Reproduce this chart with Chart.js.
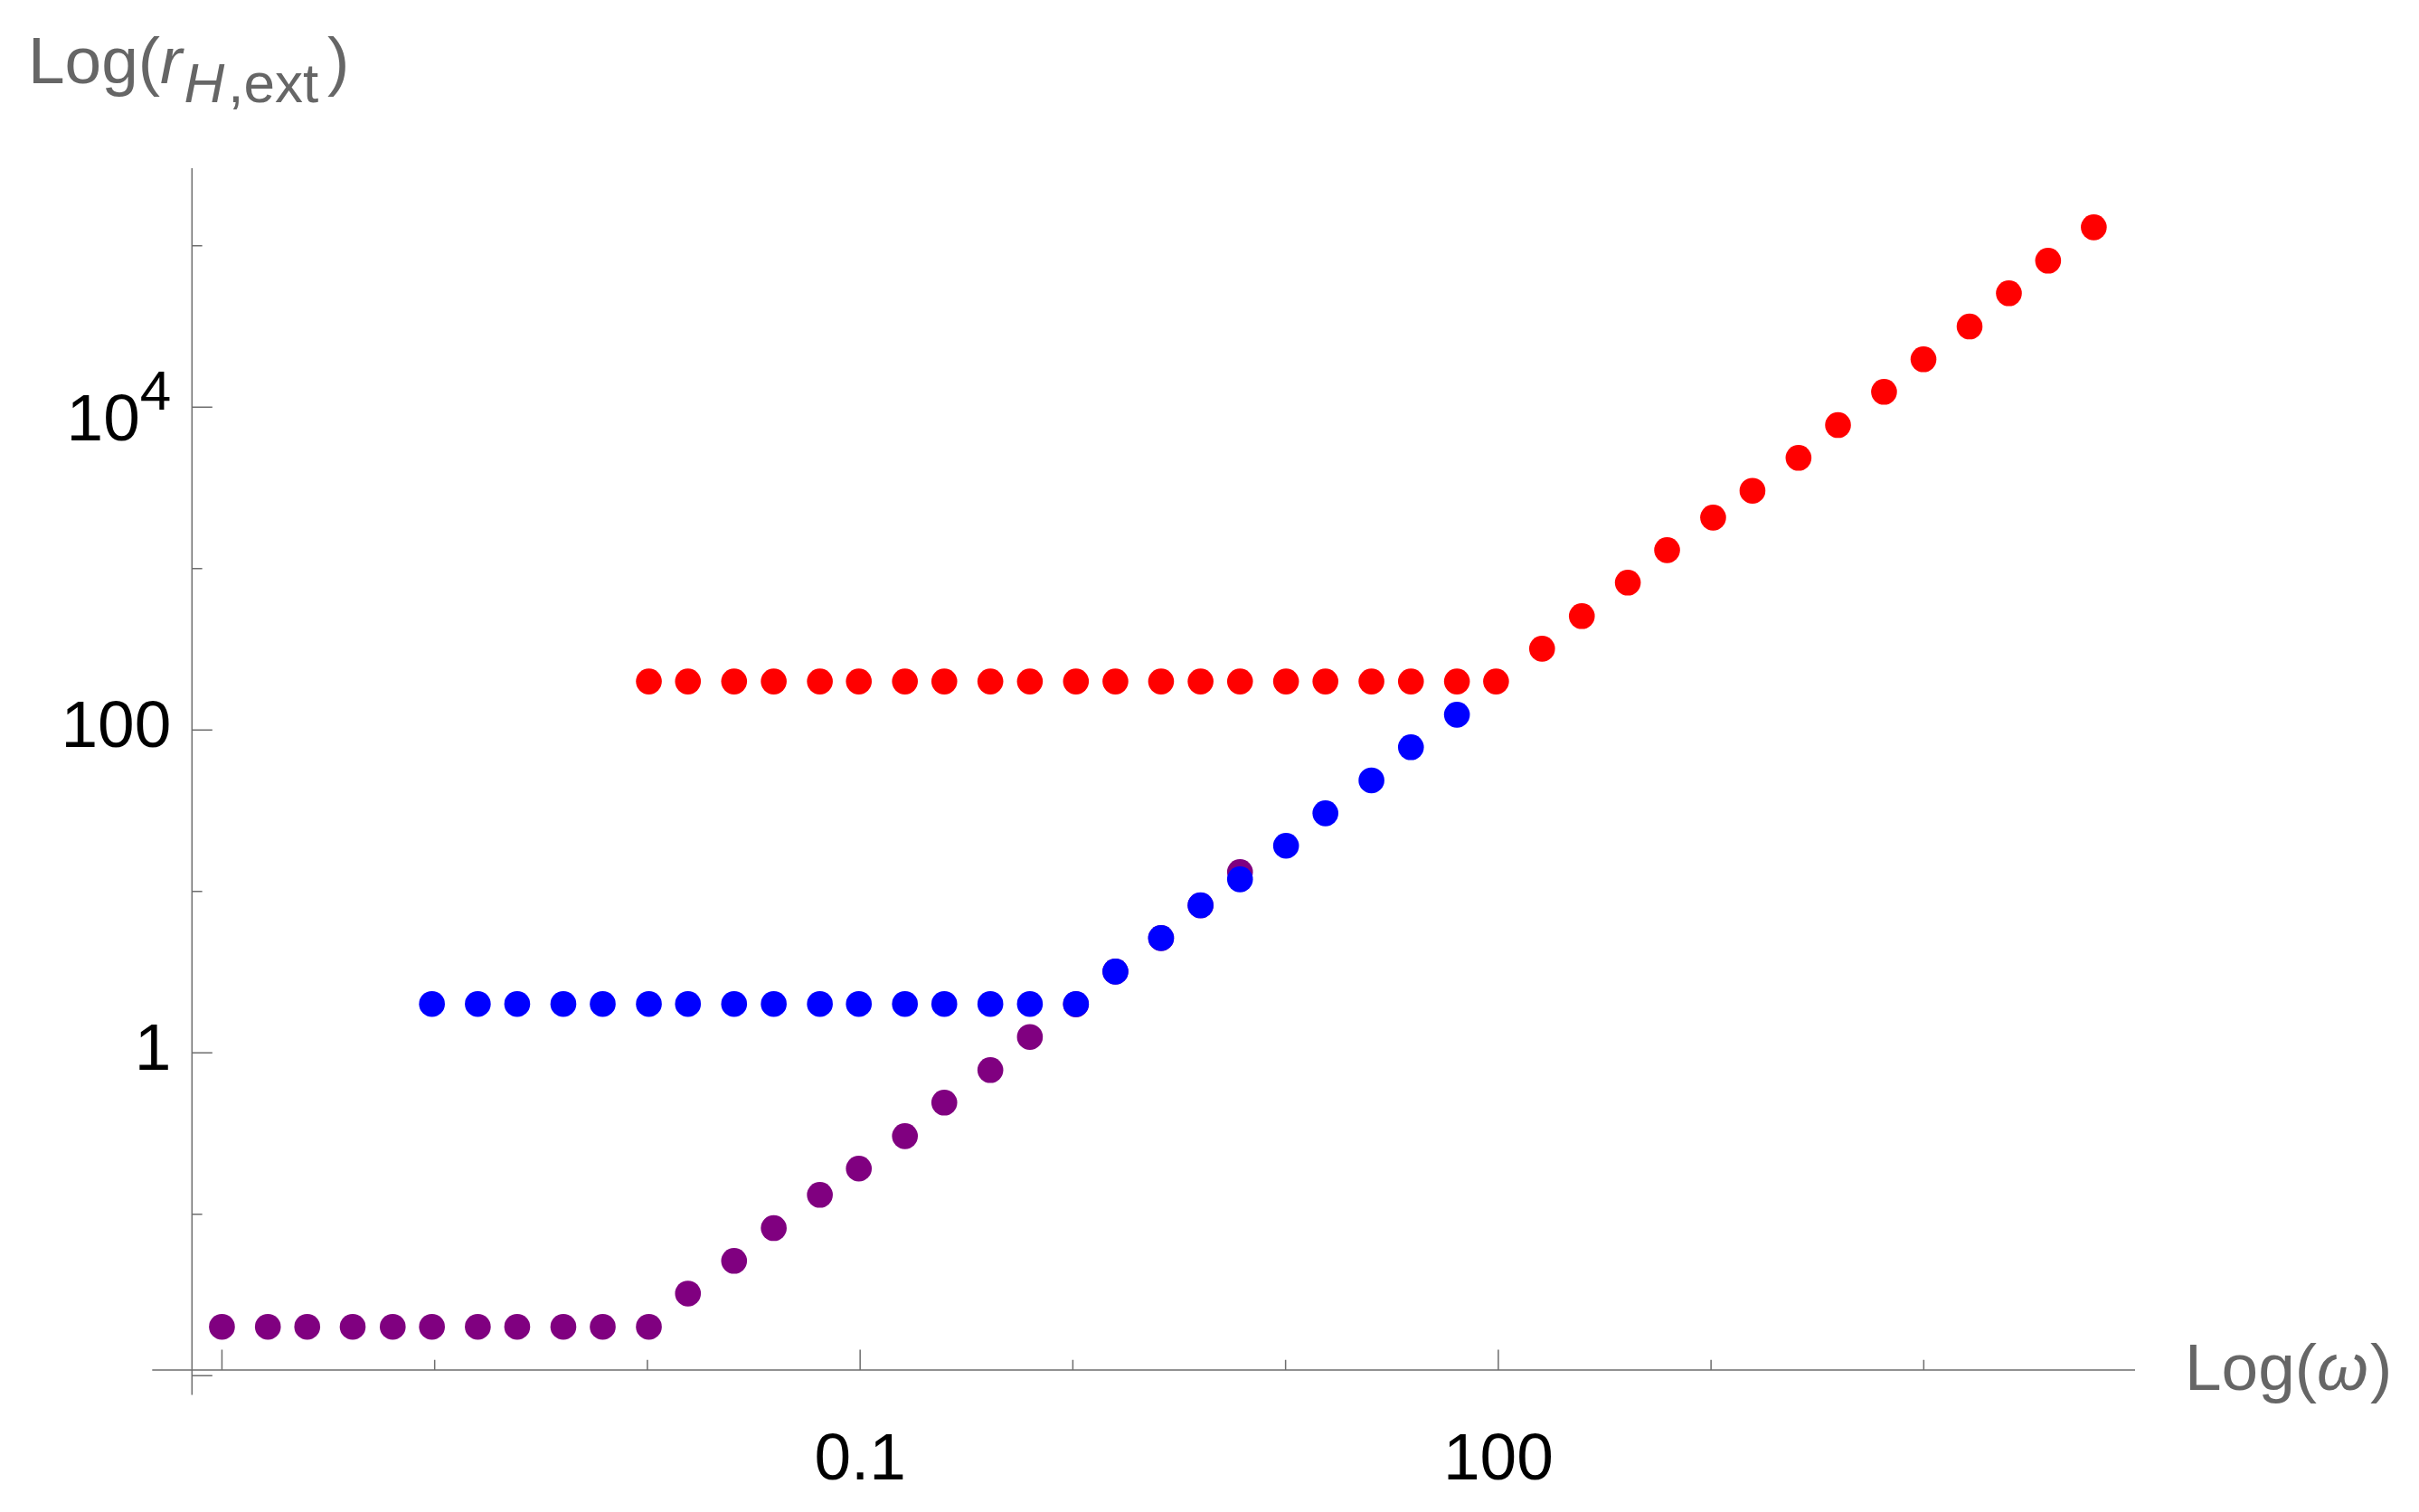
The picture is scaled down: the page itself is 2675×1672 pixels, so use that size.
<!DOCTYPE html>
<html>
<head>
<meta charset="utf-8">
<title>Log(r_H,ext) vs Log(omega)</title>
<script src="https://cdn.jsdelivr.net/npm/chart.js@4.4.0/dist/chart.umd.min.js"></script>
<style>
  html, body { margin: 0; padding: 0; background: #fff; overflow: hidden; }
  canvas { display: block; }
</style>
</head>
<body>
<canvas id="chart" width="2675" height="1672"></canvas>
<script>
// ============ DATA ============

// purple series
const purpleOmega = [1.0e-4, 1.644e-4, 2.517e-4, 4.117e-4, 6.35e-4, 9.71e-4, 1.595e-3, 2.443e-3, 4.026e-3, 6.166e-3,
  1.016e-2, 1.551e-2, 2.556e-2, 3.926e-2, 6.468e-2, 9.86e-2, 0.1624, 0.2487, 0.4094, 0.628,
  1.034, 1.585, 2.598, 3.984, 6.106];
const purpleR = [0.0201, 0.0201, 0.0201, 0.0201, 0.0201, 0.0201, 0.0201, 0.0201, 0.0201, 0.0201,
  0.0201, 0.0323, 0.0515, 0.0822, 0.132, 0.192, 0.305, 0.492, 0.783, 1.255,
  2.0, 3.19, 5.14, 8.2, 13.2];

// blue series
const blueOmega = [9.71e-4, 1.595e-3, 2.443e-3, 4.026e-3, 6.166e-3, 1.016e-2, 1.551e-2, 2.556e-2, 3.926e-2, 6.468e-2,
  9.86e-2, 0.1624, 0.2487, 0.4094, 0.628, 1.034, 1.585, 2.598, 3.984, 6.106,
  10.05, 15.39, 25.33, 38.84, 63.9];
const blueR = [2.01, 2.01, 2.01, 2.01, 2.01, 2.01, 2.01, 2.01, 2.01, 2.01,
  2.01, 2.01, 2.01, 2.01, 2.01, 2.01, 3.19, 5.15, 8.22, 11.9,
  19.2, 30.5, 48.8, 78.3, 124.5];

// red series
const redOmega = [1.016e-2, 1.551e-2, 2.556e-2, 3.926e-2, 6.468e-2, 9.86e-2, 0.1624, 0.2487, 0.4094, 0.628,
  1.034, 1.585, 2.598, 3.984, 6.106, 10.05, 15.39, 25.33, 38.84, 63.9,
  97.6, 160.6, 247, 406.3, 621.5, 1023, 1566, 2578, 3953, 6506,
  9970, 16420, 25130, 38420, 63000];
const redR = [200, 200, 200, 200, 200, 200, 200, 200, 200, 200,
  200, 200, 200, 200, 200, 200, 200, 200, 200, 200,
  200, 319, 508, 819, 1302, 2072, 3037, 4857, 7755, 12450,
  19820, 31640, 50800, 80850, 130200];

// axis ranges and ticks
const xRange = [7.23e-5, 98450];
const yRange = [0.01085, 302500];
const xAxisFrom = 4.7e-5;   // x axis line starts a bit left of the y axis
const yAxisFrom = 0.0076;   // y axis line runs a bit below the x axis

const xMajorTicks = [1e-4, 0.1, 100];
const xMinorTicks = [1e-3, 1e-2, 1, 10, 1000, 1e4];
const xTickValues = [0.1, 100];
const xTickLabels = ['0.1', '100'];

const yMajorTicks = [0.01, 1, 100, 1e4];
const yMinorTicks = [0.1, 10, 1000, 1e5];
const yTickValues = [1, 100, 1e4];
const yTickLabels = ['1', '100', '10^4'];

// ============ STYLE ============

const FONT = '"Liberation Sans", Arial, Helvetica, sans-serif';
const AXIS_COLOR = '#6e6e6e';
const LABEL_COLOR = '#666666';
const MAJOR_LEN = 22.5;
const MINOR_LEN = 11.3;

function font(size, italic) {
  return (italic ? 'italic ' : '') + size + 'px ' + FONT;
}

// draw a list of text runs one after another, returns end x
function drawRuns(ctx, x, baseline, runs) {
  runs.forEach(run => {
    ctx.font = font(run.size, run.italic);
    ctx.fillText(run.text, x, baseline + (run.dy || 0));
    x += ctx.measureText(run.text).width + (run.gap || 0);
  });
  return x;
}

function runsWidth(ctx, runs) {
  let w = 0;
  runs.forEach(run => {
    ctx.font = font(run.size, run.italic);
    w += ctx.measureText(run.text).width + (run.gap || 0);
  });
  return w;
}

// ============ AXES PLUGIN (Mathematica style axes) ============

const axesPlugin = {
  id: 'mmaAxes',
  beforeDatasetsDraw(chart) {
    const ctx = chart.ctx;
    const xs = chart.scales.x;
    const ys = chart.scales.y;

    const axisY = ys.getPixelForValue(yRange[0]);
    const axisX = xs.getPixelForValue(xRange[0]);

    ctx.save();
    ctx.strokeStyle = AXIS_COLOR;
    ctx.lineWidth = 1.5;

    // axis lines
    ctx.beginPath();
    ctx.moveTo(xs.getPixelForValue(xAxisFrom), axisY);
    ctx.lineTo(xs.getPixelForValue(xRange[1]), axisY);
    ctx.moveTo(axisX, ys.getPixelForValue(yAxisFrom));
    ctx.lineTo(axisX, ys.getPixelForValue(yRange[1]));
    ctx.stroke();

    // tick marks, drawn inward
    ctx.beginPath();
    xMajorTicks.forEach(v => {
      const px = xs.getPixelForValue(v);
      ctx.moveTo(px, axisY);
      ctx.lineTo(px, axisY - MAJOR_LEN);
    });
    xMinorTicks.forEach(v => {
      const px = xs.getPixelForValue(v);
      ctx.moveTo(px, axisY);
      ctx.lineTo(px, axisY - MINOR_LEN);
    });
    yMajorTicks.forEach(v => {
      const py = ys.getPixelForValue(v);
      ctx.moveTo(axisX, py);
      ctx.lineTo(axisX + MAJOR_LEN, py);
    });
    yMinorTicks.forEach(v => {
      const py = ys.getPixelForValue(v);
      ctx.moveTo(axisX, py);
      ctx.lineTo(axisX + MINOR_LEN, py);
    });
    ctx.stroke();

    // tick labels
    ctx.fillStyle = '#000';
    ctx.textBaseline = 'alphabetic';
    ctx.textAlign = 'center';
    ctx.font = font(73);
    xTickValues.forEach((v, i) => {
      ctx.fillText(xTickLabels[i], xs.getPixelForValue(v), axisY + 121);
    });

    ctx.textAlign = 'left';
    yTickValues.forEach((v, i) => {
      const py = ys.getPixelForValue(v);
      const parts = yTickLabels[i].split('^');
      let runs, baseline;
      if (parts.length > 1) {
        runs = [{ text: parts[0], size: 73 }, { text: parts[1], size: 62, dy: -34 }];
        baseline = py + 37;
      } else {
        runs = [{ text: parts[0], size: 73 }];
        baseline = py + 19;
      }
      const right = axisX - 23;
      drawRuns(ctx, right - runsWidth(ctx, runs), baseline, runs);
    });

    // axis titles
    ctx.fillStyle = LABEL_COLOR;
    drawRuns(ctx, 31, 92, [
      { text: 'Log(', size: 73 },
      { text: 'r', size: 73, italic: true, gap: 2 },
      { text: 'H', size: 62, italic: true, dy: 21, gap: 4 },
      { text: ',ext', size: 62, dy: 21, gap: 10 },
      { text: ')', size: 73 }
    ]);
    drawRuns(ctx, xs.getPixelForValue(xRange[1]) + 55, axisY + 22, [
      { text: 'Log(', size: 73 },
      { text: 'ω', size: 73, italic: true, gap: 2 },
      { text: ')', size: 73 }
    ]);

    ctx.restore();
  }
};

// ============ CHART ============

function toPoints(xs, ys) {
  return xs.map((x, i) => ({ x: x, y: ys[i] }));
}

const ctx = document.getElementById('chart').getContext('2d');

new Chart(ctx, {
  type: 'scatter',
  data: {
    datasets: [
      { label: 'purple', data: toPoints(purpleOmega, purpleR), backgroundColor: '#800080', order: 3 },
      { label: 'blue', data: toPoints(blueOmega, blueR), backgroundColor: '#0000ff', order: 2 },
      { label: 'red', data: toPoints(redOmega, redR), backgroundColor: '#ff0000', order: 1 }
    ]
  },
  options: {
    responsive: false,
    animation: false,
    devicePixelRatio: 1,
    layout: { padding: { left: 209, right: 314, top: 186, bottom: 157 } },
    elements: {
      point: { radius: 14.3, hoverRadius: 14.3, borderWidth: 0, pointStyle: 'circle' }
    },
    plugins: {
      legend: { display: false },
      tooltip: { enabled: false }
    },
    scales: {
      x: { type: 'logarithmic', min: xRange[0], max: xRange[1], display: false },
      y: { type: 'logarithmic', min: yRange[0], max: yRange[1], display: false }
    }
  },
  plugins: [axesPlugin]
});
</script>
</body>
</html>
